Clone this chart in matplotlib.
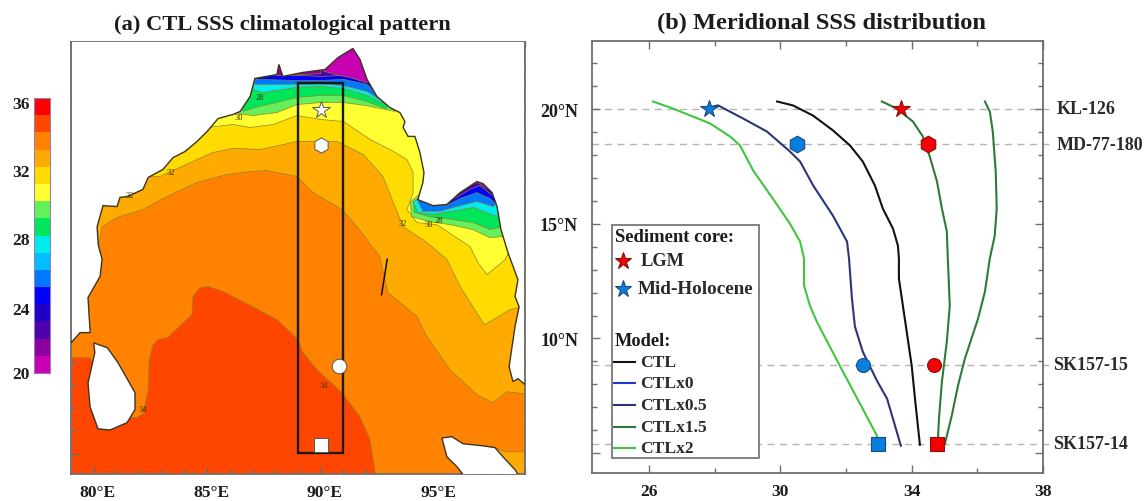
import matplotlib
matplotlib.use("Agg")
import matplotlib.pyplot as plt
from matplotlib.colors import ListedColormap, BoundaryNorm
from matplotlib.patches import Rectangle
from matplotlib.ticker import MultipleLocator
from matplotlib.transforms import ScaledTranslation

plt.rcParams['font.family'] = ['Liberation Serif', 'DejaVu Serif']

W, H = 1148, 502
TXT = '#1c1c1c'
SPINE = '#6e6e6e'

# --- colour levels of the salinity bar, 20 to 36 by 1
levels = list(range(20, 37))
band_colors = ['#c800b4', '#8c00a0', '#5000aa', '#1e00c8', '#0000ff', '#0078ff',
               '#00beff', '#00ebeb', '#00e65a', '#64f05a', '#ffff32', '#ffdc00',
               '#ffaa00', '#ff8200', '#ff4600', '#ff0000']
cbar_ticks = [20, 24, 28, 32, 36]
cbar_label_shift = [-1, -4, -3, -4, -4]  # labels sit a little off their ticks

# --- coastlines (lon, lat)
coast_north = [(79.0, 9.85), (79.4, 10.3), (79.85, 10.3), (79.8, 11.0), (79.75, 11.83), (80.28, 12.75),
               (80.37, 13.5), (80.2, 14.13), (80.15, 14.92), (80.41, 15.84), (81.03, 15.8), (81.16, 16.2),
               (81.5, 16.24), (82.17, 16.55), (82.4, 17.07), (83.05, 17.42), (83.5, 17.94), (84.02, 18.2),
               (84.55, 18.64), (85.0, 19.08), (85.48, 19.64), (86.14, 19.82), (86.45, 19.95), (86.89, 20.6),
               (87.1, 21.39), (88.07, 21.56), (88.16, 22.0), (88.33, 21.48), (89.2, 21.65), (90.19, 21.78),
               (90.76, 22.3), (91.42, 22.7), (91.73, 22.22), (92.04, 21.35), (92.48, 20.6), (93.05, 20.12),
               (93.49, 19.9), (93.71, 19.51), (93.63, 19.25), (93.85, 18.86), (94.15, 18.86), (94.37, 18.16),
               (94.55, 17.28), (94.5, 16.85), (94.28, 16.1), (94.95, 15.84), (95.56, 15.89), (96.14, 16.41),
               (96.88, 16.89), (97.15, 16.8), (97.55, 16.41), (97.77, 15.8), (97.94, 14.8), (98.25, 13.79),
               (98.69, 12.61), (98.56, 11.87), (98.74, 11.43), (98.56, 10.56), (98.3, 8.81), (98.47, 8.16),
               (98.69, 8.29), (99.0, 8.03), (99.0, 23.5), (79.0, 23.5)]
coast_sri_lanka = [(80.0, 9.85), (80.6, 9.64), (81.07, 8.99), (81.82, 7.68), (81.82, 6.94), (81.47, 6.37),
                   (80.72, 6.05), (80.19, 6.1), (79.84, 7.06), (79.75, 8.1), (80.05, 9.43)]
coast_sumatra = [(95.34, 5.7), (95.78, 5.76), (96.27, 5.45), (97.15, 5.36), (97.68, 5.28), (98.03, 4.88),
                 (98.56, 4.32), (98.75, 4.0), (96.35, 4.0), (96.0, 4.45), (95.56, 4.88)]

# --- isohalines (lon, lat), saltier side first
iso_34 = [(79.0, 9.2), (79.84, 9.2), (81.5, 6.6), (81.9, 6.6), (82.17, 6.76), (82.4, 7.8), (82.44, 9.12),
          (82.62, 9.77), (82.83, 10.0), (83.27, 10.09), (84.33, 11.09), (84.37, 11.87), (84.68, 12.26),
          (85.04, 12.31), (85.7, 12.09), (87.02, 11.43), (88.07, 10.87), (89.0, 10.0), (89.22, 9.43),
          (89.84, 8.68), (90.94, 7.68), (91.73, 6.63), (92.17, 5.63), (92.39, 4.31), (92.39, 4.0),
          (99.0, 4.0), (99.0, 23.5), (79.0, 23.5)]
iso_33 = [(80.23, 14.13), (80.37, 14.92), (81.03, 15.32), (82.17, 15.67), (83.23, 16.24), (84.55, 16.85),
          (85.87, 17.2), (86.89, 17.33), (87.63, 17.37), (88.96, 17.11), (89.66, 16.41), (90.94, 15.67),
          (91.6, 14.92), (92.61, 13.61), (92.96, 12.04), (93.18, 11.87), (94.24, 11.0), (94.68, 10.12),
          (95.7, 8.68), (96.88, 7.59), (97.59, 7.24), (98.2, 7.72), (99.0, 7.63), (99.0, 23.5), (79.0, 23.5),
          (79.0, 14.13)]
iso_33_corner = [(97.68, 5.28), (98.1, 5.1), (99.0, 5.1), (99.0, 4.0), (98.6, 4.0)]
iso_32 = [(82.92, 17.11), (84.55, 17.85), (85.26, 18.16), (86.14, 18.34), (87.33, 18.29), (88.96, 18.64),
          (90.0, 18.64), (90.72, 18.64), (91.88, 18.07), (92.74, 17.11), (93.27, 15.8), (93.63, 14.92),
          (94.68, 14.23), (95.56, 13.49), (96.14, 12.31), (97.15, 10.73), (97.24, 10.65), (98.34, 11.3),
          (98.69, 11.39), (99.0, 11.39), (99.0, 23.5), (79.0, 23.5), (79.0, 17.11)]
iso_31 = [(85.0, 19.25), (86.14, 19.38), (86.89, 19.25), (87.9, 19.38), (88.96, 19.77), (90.0, 19.6),
          (91.0, 19.51), (92.17, 18.73), (93.05, 18.29), (93.8, 17.85), (94.07, 17.28), (94.07, 16.41),
          (93.8, 15.67), (94.24, 15.1), (95.12, 15.01), (96.58, 14.05), (96.93, 13.35), (97.33, 12.83),
          (98.12, 13.48), (98.34, 13.92), (99.0, 13.92), (99.0, 23.5), (79.0, 23.5), (79.0, 19.25)]
iso_30_w = [(86.36, 19.86), (87.02, 19.77), (88.07, 19.9), (88.96, 20.25), (90.0, 20.34), (91.0, 20.34),
            (92.04, 20.2), (93.27, 19.95), (93.27, 23.5), (86.36, 23.5)]
iso_29_w = [(86.58, 19.95), (87.1, 20.12), (88.96, 20.56), (90.0, 20.65), (91.0, 20.65), (91.92, 20.42),
            (92.9, 20.07), (92.9, 23.5), (86.58, 23.5)]
iso_28_w = [(87.02, 20.9), (87.46, 20.77), (88.96, 21.0), (90.0, 21.04), (91.0, 20.95), (92.04, 20.65),
            (92.74, 20.3), (92.74, 23.5), (87.02, 23.5)]
iso_27_w = [(87.1, 21.13), (88.96, 21.13), (90.0, 21.15), (91.0, 21.08), (92.04, 20.82), (92.61, 20.47),
            (92.61, 23.5), (87.1, 23.5)]
iso_25_w = [(87.19, 21.35), (88.96, 21.3), (90.0, 21.3), (91.0, 21.35), (92.04, 21.13), (92.48, 20.69),
            (92.48, 23.5), (87.19, 23.5)]
iso_23_w = [(87.77, 21.52), (88.96, 21.52), (90.0, 21.48), (91.0, 21.52), (91.92, 21.43), (91.92, 23.5),
            (87.77, 23.5)]
iso_22_w = [(87.9, 21.55), (88.4, 21.5), (89.2, 21.56), (90.0, 21.6), (90.2, 23.5), (87.9, 23.5)]
iso_21_w = [(90.1, 21.72), (90.7, 21.55), (91.4, 21.4), (92.04, 21.2), (92.3, 23.5), (90.1, 23.5)]
iso_30_e = [(94.32, 16.3), (93.95, 16.0), (94.0, 15.36), (94.81, 15.14), (95.7, 15.01), (96.72, 14.79),
            (97.46, 14.44), (97.99, 14.49), (98.2, 14.6), (99.0, 17.0), (94.6, 17.0)]
iso_29_e = [(94.32, 16.2), (94.1, 15.95), (94.12, 15.55), (94.81, 15.35), (95.7, 15.25), (96.72, 15.1),
            (97.46, 14.8), (97.94, 14.9), (99.0, 17.0), (94.6, 17.0)]
iso_28_e = [(94.33, 16.15), (94.07, 16.0), (94.28, 15.55), (94.95, 15.46), (95.56, 15.55), (96.72, 15.76),
            (97.77, 15.36), (99.0, 17.0), (94.6, 17.0)]
iso_27_e = [(94.33, 16.1), (94.28, 16.02), (94.5, 15.59), (95.26, 15.59), (96.0, 15.8), (96.88, 16.02),
            (97.59, 15.8), (99.0, 17.0), (94.6, 17.0)]
iso_25_e = [(94.8, 15.85), (95.56, 15.85), (96.14, 16.15), (96.88, 16.41), (97.46, 16.15), (97.72, 15.9),
            (99.0, 17.0), (94.8, 17.0)]
iso_23_e = [(95.9, 16.15), (96.58, 16.55), (97.0, 16.72), (97.55, 16.3), (99.0, 17.0), (95.9, 17.0)]
iso_22_e = [(96.6, 16.75), (96.93, 16.85), (97.3, 16.6), (99.0, 17.2), (96.6, 17.2)]

# each filled region with the lower salinity level of its band, drawn salty to fresh
fill_regions = [(iso_34, 33), (iso_33, 32), (iso_33_corner, 32), (iso_32, 31), (iso_31, 30),
                (iso_30_w, 29), (iso_30_e, 29), (iso_29_w, 28), (iso_29_e, 28), (iso_28_w, 27),
                (iso_28_e, 27), (iso_27_w, 25), (iso_27_e, 25), (iso_25_w, 24), (iso_25_e, 24),
                (iso_23_w, 22), (iso_23_e, 22), (iso_22_w, 21), (iso_22_e, 21), (iso_21_w, 20)]

contour_labels = ['32', '32', '30', '28', '32', '30', '28', '34', '34']
contour_label_lon = [81.6, 83.4, 86.4, 87.3, 93.6, 94.75, 95.2, 90.15, 82.15]
contour_label_lat = [16.3, 17.3, 19.7, 20.6, 15.1, 15.05, 15.2, 8.0, 6.95]

# --- box and sediment cores
box_lon = [89.0, 91.0]
box_lat = [5.05, 21.17]
core_names = ['KL-126', 'MD-77-180', 'SK157-15', 'SK157-14']
core_lat = [20.03, 18.48, 8.85, 5.4]
core_lon = [90.0, 90.0, 90.8, 90.0]
core_markers = ['*', 'h', 'o', 's']
core_map_size = [13, 11, 10.5, 10]
core_plot_size = [13, 12, 10, 10]
core_lgm = [33.67, 34.49, 34.68, 34.78]
core_mid_holocene = [27.83, 30.5, 32.51, 32.97]

# --- meridional salinity curves
lat_green_light = [20.34, 20.03, 19.38, 18.81, 18.42, 17.85, 17.33, 16.1, 15.01, 14.23, 13.49, 12.31, 11.43, 10.73, 8.81, 5.76, 5.32]
sss_green_light = [26.12, 26.73, 27.86, 28.47, 28.77, 28.98, 29.17, 29.77, 30.29, 30.6, 30.72, 30.72, 30.9, 31.11, 31.81, 32.94, 33.0]
lat_navy = [20.08, 20.17, 19.6, 19.03, 18.16, 17.72, 16.67, 15.36, 14.23, 13.49, 11.74, 10.52, 9.42, 8.16, 7.37, 5.76, 5.32]
sss_navy = [27.83, 28.1, 28.86, 29.59, 30.29, 30.6, 31.0, 31.6, 32.03, 32.09, 32.18, 32.27, 32.51, 32.94, 33.25, 33.58, 33.67]
lat_black = [20.34, 20.17, 19.73, 19.08, 18.42, 17.72, 16.67, 15.67, 14.79, 14.05, 13.49, 12.61, 10.86, 8.81, 7.37, 5.76, 5.36]
sss_black = [29.9, 30.38, 30.99, 31.6, 32.12, 32.51, 32.88, 33.12, 33.43, 33.58, 33.61, 33.61, 33.79, 34.0, 34.1, 34.22, 34.25]
lat_green_mid = [20.34, 20.03, 19.46, 18.81, 17.94, 16.85, 15.67, 14.67, 13.49, 11.43, 9.86, 8.11, 6.5, 5.62]
sss_green_mid = [33.09, 33.55, 34.04, 34.34, 34.55, 34.77, 34.92, 35.07, 35.1, 35.16, 35.07, 34.92, 34.83, 34.8]
lat_green_right = [20.34, 19.9, 19.03, 17.28, 15.67, 14.49, 13.49, 12.04, 10.86, 9.12, 7.94, 6.63, 5.4]
sss_green_right = [36.23, 36.38, 36.47, 36.56, 36.59, 36.53, 36.38, 36.23, 36.02, 35.62, 35.41, 35.22, 35.01]

model_names = ['CTL', 'CTLx0', 'CTLx0.5', 'CTLx1.5', 'CTLx2']
model_colors = ['#111111', '#2a35d0', '#2b3578', '#2f7a3a', '#3fc63f']


def px_axes(x0, y0, x1, y1):
    return fig.add_axes([x0 / W, 1 - y1 / H, (x1 - x0) / W, (y1 - y0) / H])


def style_box(ax):
    for s in ax.spines.values():
        s.set_color(SPINE)
        s.set_linewidth(1.3)
    ax.tick_params(which='both', direction='in', top=True, right=True, color=SPINE, width=1.0)
    ax.tick_params(which='major', length=5.8)
    ax.tick_params(which='minor', length=3.6)


fig = plt.figure(figsize=(W / 100, H / 100), dpi=100)

# region (a) map
axm = px_axes(71, 43, 525, 475)
axm.set_xlim(79, 99)
axm.set_ylim(4.13, 22.98)
axm.add_patch(Rectangle((79, 4), 20, 20, fc=band_colors[14], ec='none', zorder=1))
for poly, lev in fill_regions:
    axm.fill(*zip(*poly), fc=band_colors[lev - 20], ec='#8f8430', lw=0.5, zorder=2)
for poly in (coast_north, coast_sri_lanka, coast_sumatra):
    axm.fill(*zip(*poly), fc='white', ec='#3d3420', lw=1.0, zorder=3)
for t, lon, lat in zip(contour_labels, contour_label_lon, contour_label_lat):
    axm.text(lon, lat, t, fontsize=6, color='#333300', ha='center', va='center', zorder=4)
axm.plot([92.93, 92.68], [13.5, 11.95], color='#111111', lw=1.1, zorder=4)
axm.add_patch(Rectangle((box_lon[0], box_lat[0]), box_lon[1] - box_lon[0], box_lat[1] - box_lat[0],
                        fc='none', ec='#1a1a1a', lw=1.7, zorder=5))
for lon, lat, m, ms in zip(core_lon, core_lat, core_markers, core_map_size):
    axm.plot(lon, lat, m, ms=ms, mfc='white', mec='#555555', mew=0.7, zorder=6)
axm.set_xticks([80, 85, 90, 95])
axm.set_xticklabels(['80°E', '85°E', '90°E', '95°E'], fontsize=12.5, color=TXT, weight='bold')
axm.set_yticks([5, 10, 15, 20])
axm.set_yticklabels([])
axm.xaxis.set_minor_locator(MultipleLocator(1))
axm.yaxis.set_minor_locator(MultipleLocator(1))
style_box(axm)
axm.tick_params(axis='x', which='major', pad=7)
for lab in axm.get_xticklabels():
    lab.set_transform(lab.get_transform() + ScaledTranslation(4 / 100, 0, fig.dpi_scale_trans))
axm.set_title('(a) CTL SSS climatological pattern', fontsize=16.2, weight='bold', color=TXT, pad=9, x=0.465)
# endregion

# region colour bar
axc = px_axes(34, 99, 50, 374)
axc.pcolormesh([0, 1], levels, [[v + 0.5] for v in levels[:-1]],
               cmap=ListedColormap(band_colors), norm=BoundaryNorm(levels, len(band_colors)))
axc.set_xticks([])
axc.set_yticks([])
for s in axc.spines.values():
    s.set_color('#9a7fb0')
    s.set_linewidth(0.8)
for v, shift in zip(cbar_ticks, cbar_label_shift):
    axc.annotate(str(v), (0, v), xytext=(-3, shift), textcoords='offset points', ha='right', va='center',
                 fontsize=12.5, weight='bold', color=TXT, annotation_clip=False)
# endregion

# region (b) meridional curves
axl = px_axes(592, 42, 1043, 474)
axl.set_xlim(24.26, 38)
axl.set_ylim(4.13, 22.98)
for lat, name in zip(core_lat, core_names):
    axl.plot([24.26, 38.3], [lat, lat], color='#b4b4b4', lw=1.0, dashes=(5, 4), clip_on=False, zorder=1)
    xt = 38.42 if name in ('KL-126', 'MD-77-180') else 38.3
    axl.text(xt, lat, name, fontsize=13, weight='bold', color='#2a2a2a', va='center', ha='left')
axl.plot(sss_green_light, lat_green_light, color=model_colors[4], lw=1.5, zorder=2)
axl.plot(sss_navy, lat_navy, color=model_colors[2], lw=1.5, zorder=2)
axl.plot(sss_black, lat_black, color=model_colors[0], lw=1.5, zorder=2)
axl.plot(sss_green_mid, lat_green_mid, color=model_colors[3], lw=1.5, zorder=2)
axl.plot(sss_green_right, lat_green_right, color=model_colors[3], lw=1.5, zorder=2)
for i, m in enumerate(core_markers):
    ms = core_plot_size[i]
    axl.plot(core_lgm[i], core_lat[i], m, ms=ms, mfc='#f50000', mec='#8a1010', mew=0.8, zorder=4)
    axl.plot(core_mid_holocene[i], core_lat[i], m, ms=ms, mfc='#0a7de0', mec='#1a4a80', mew=0.8, zorder=4)
axl.set_xticks([26, 30, 34, 38])
axl.set_xticklabels(['26', '30', '34', '38'], fontsize=12.5, weight='bold', color=TXT)
axl.xaxis.set_minor_locator(MultipleLocator(2))
axl.set_yticks([10, 15, 20, 5])
axl.set_yticklabels(['10°N', '15°N', '20°N', ''], fontsize=13, weight='bold', color=TXT)
axl.yaxis.set_minor_locator(MultipleLocator(1))
style_box(axl)
axl.tick_params(axis='x', which='major', pad=7)
axl.tick_params(axis='y', which='major', pad=10)
axl.set_title('(b) Meridional SSS distribution', fontsize=17.6, weight='bold', color=TXT, pad=9, x=0.508)

# legend box, drawn by hand because of its two titled blocks
axl.add_patch(Rectangle((24.87, 4.8), 4.48, 10.17, fc='white', ec='#777777', lw=1.3, zorder=5))
axl.text(24.96, 14.45, 'Sediment core:', fontsize=13.4, weight='bold', color=TXT, va='center', zorder=6)
axl.plot(25.21, 13.4, '*', ms=12.5, mfc='#f50000', mec='#8a1010', mew=0.8, zorder=6)
axl.text(25.73, 13.4, 'LGM', fontsize=13.2, weight='bold', color='#2a2a2a', va='center', zorder=6)
axl.plot(25.21, 12.17, '*', ms=12.5, mfc='#0a7de0', mec='#1a4a80', mew=0.8, zorder=6)
axl.text(25.66, 12.17, 'Mid-Holocene', fontsize=13.8, weight='bold', color='#2a2a2a', va='center', zorder=6)
axl.text(24.96, 9.9, 'Model:', fontsize=13.2, weight='bold', color=TXT, va='center', zorder=6)
for name, col, y in zip(model_names, model_colors, [8.97, 8.07, 7.08, 6.12, 5.23]):
    axl.plot([24.93, 25.57], [y, y], color=col, lw=1.5, zorder=6)
    axl.text(25.73, y, name, fontsize=12.6, weight='bold', color='#2a2a2a', va='center', zorder=6)
# endregion

fig.savefig('out.png', dpi=100)
